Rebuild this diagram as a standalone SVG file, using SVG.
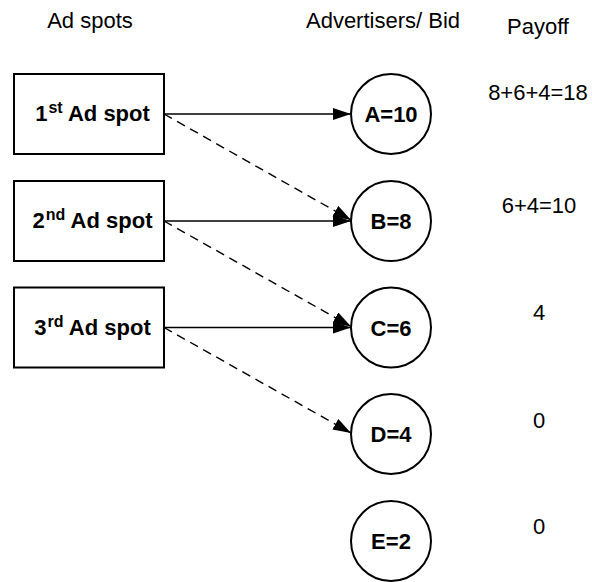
<svg xmlns="http://www.w3.org/2000/svg" width="592" height="582" viewBox="0 0 592 582">
<style>
.box{fill:#fff;stroke:#000;stroke-width:2}
.node{fill:#fff;stroke:#000;stroke-width:2}
.lbl{font-family:"Liberation Sans",Arial,sans-serif;font-size:22px;font-weight:bold;fill:#000;text-anchor:middle}
.hdr{font-family:"Liberation Sans",Arial,sans-serif;font-size:22px;fill:#000;text-anchor:middle}
.sup{font-size:16px}
.sol{stroke:#000;stroke-width:1.4;fill:none;marker-end:url(#ah)}
.dash{stroke:#000;stroke-width:1.4;fill:none;stroke-dasharray:9 6;marker-end:url(#ah)}
</style>
<defs>
<marker id="ah" markerUnits="userSpaceOnUse" markerWidth="20" markerHeight="14" refX="18" refY="6" orient="auto">
<path d="M0,0 L18,6 L0,12 Z" fill="#000"/>
</marker>
</defs>
<g id="headers">
<text class="hdr" x="90" y="28">Ad spots</text>
<text class="hdr" x="383" y="28">Advertisers/ Bid</text>
<text class="hdr" x="538" y="34">Payoff</text>
</g>
<g id="connectors">
<line class="sol" x1="164" y1="114" x2="351" y2="114"/>
<line class="sol" x1="164" y1="221" x2="351" y2="221"/>
<line class="sol" x1="164" y1="327.5" x2="351" y2="327.5"/>
<line class="dash" x1="164" y1="114" x2="351" y2="220"/>
<line class="dash" x1="164" y1="221" x2="351" y2="326.5"/>
<line class="dash" x1="164" y1="327.5" x2="351" y2="433"/>
</g>
<g id="spot1">
<rect class="box" x="14" y="74" width="150" height="80"/>
<text class="lbl" x="92.5" y="121">1<tspan class="sup" dx="1" dy="-8">st</tspan><tspan dy="8"> Ad spot</tspan></text>
</g>
<g id="spot2">
<rect class="box" x="14" y="181" width="150" height="80"/>
<text class="lbl" x="92.5" y="228">2<tspan class="sup" dx="1" dy="-8">nd</tspan><tspan dy="8"> Ad spot</tspan></text>
</g>
<g id="spot3">
<rect class="box" x="14" y="287.5" width="150" height="80"/>
<text class="lbl" x="92.5" y="334.5">3<tspan class="sup" dx="1" dy="-8">rd</tspan><tspan dy="8"> Ad spot</tspan></text>
</g>
<g id="nodeA">
<circle class="node" cx="391" cy="114" r="40"/>
<text class="lbl" x="391" y="122">A=10</text>
</g>
<g id="nodeB">
<circle class="node" cx="391" cy="221" r="40"/>
<text class="lbl" x="391" y="229">B=8</text>
</g>
<g id="nodeC">
<circle class="node" cx="391" cy="327.5" r="40"/>
<text class="lbl" x="391" y="335.5">C=6</text>
</g>
<g id="nodeD">
<circle class="node" cx="391" cy="434" r="40"/>
<text class="lbl" x="391" y="442">D=4</text>
</g>
<g id="nodeE">
<circle class="node" cx="391" cy="541" r="40"/>
<text class="lbl" x="391" y="549">E=2</text>
</g>
<g id="payoffs">
<text class="hdr" x="538" y="100">8+6+4=18</text>
<text class="hdr" x="539" y="213">6+4=10</text>
<text class="hdr" x="539" y="320">4</text>
<text class="hdr" x="539" y="428">0</text>
<text class="hdr" x="539" y="534">0</text>
</g>
</svg>
